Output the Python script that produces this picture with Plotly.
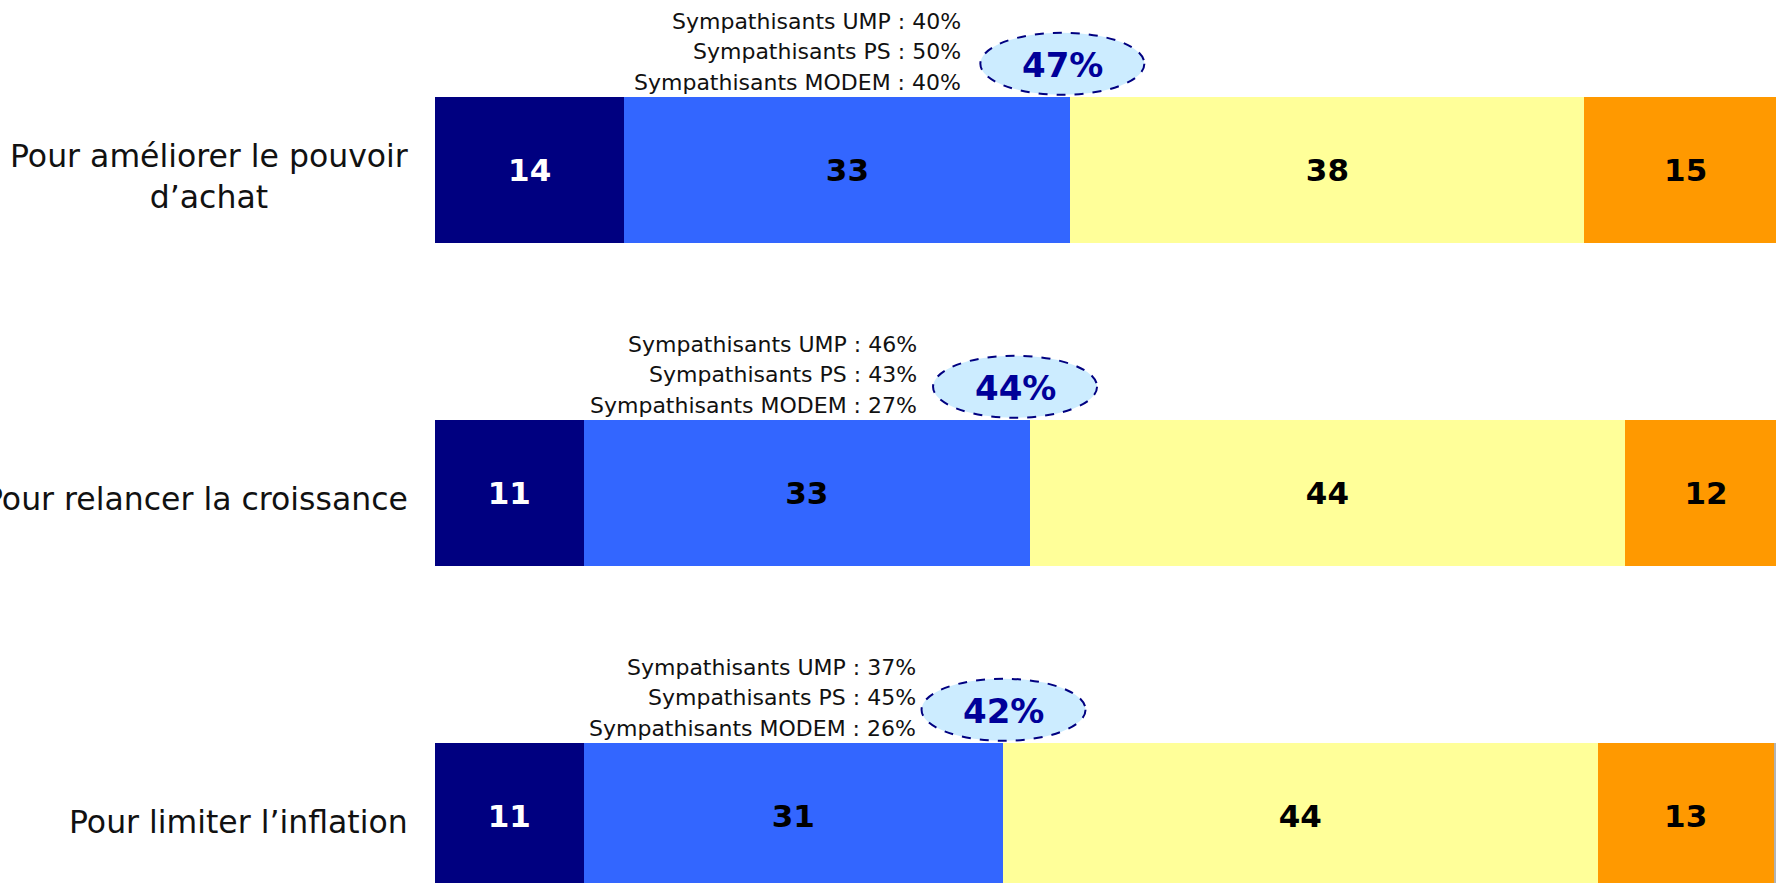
import plotly.graph_objects as go

# Données
questions = ["Pour améliorer le pouvoir<br>d’achat", "Pour relancer la croissance", "Pour limiter l’inflation"]
tres_efficace = [14, 11, 11]
assez_efficace = [33, 33, 31]
peu_efficace = [38, 44, 44]
pas_efficace = [15, 12, 13]
nsp = [0, 0, 1]
total_efficace = [47, 44, 42]
sympa_ump = [40, 46, 37]
sympa_ps = [50, 43, 45]
sympa_modem = [40, 27, 26]

# décalages de mise en page des bulles et des détails
bubble_dx = [-0.6, -1.1, 0.05]
detail_shift = [-99, -96, -86]

rows = list(range(len(questions)))
bar_w = 0.4536

segments = [
    (tres_efficace, "#000080", "white"),
    (assez_efficace, "#3366FF", "black"),
    (peu_efficace, "#FFFF99", "black"),
    (pas_efficace, "#FF9900", "black"),
]

fig = go.Figure()
for vals, col, txtcol in segments:
    fig.add_trace(go.Bar(
        x=vals, y=rows, orientation='h', width=bar_w,
        marker=dict(color=col, line=dict(width=0)),
        text=[str(v) for v in vals], textposition='inside',
        insidetextanchor='middle',
        textfont=dict(family="DejaVu Sans", size=31, color=txtcol, weight='bold'),
        hoverinfo='skip'))

fig.add_trace(go.Bar(
    x=nsp, y=rows, orientation='h', width=bar_w,
    marker=dict(color="#B2B2B2", line=dict(width=0)),
    textposition='none', hoverinfo='skip'))

annotations = []
shapes = []
for i in rows:
    top = i - bar_w / 2
    # libellé de la question
    annotations.append(dict(
        x=410 / 1776, xref='paper', y=i, yref='y', yshift=-6,
        xanchor='right', yanchor='middle',
        text=questions[i], showarrow=False, align='center',
        font=dict(family="DejaVu Sans", size=31.5, color="#111111")))
    # bulle avec le total
    cx = total_efficace[i] + bubble_dx[i]
    shapes.append(dict(
        type='circle', xref='x', yref='y', xsizemode='pixel', ysizemode='pixel',
        xanchor=cx, yanchor=top, x0=-82, x1=82, y0=2, y1=64,
        fillcolor="#CCECFF", line=dict(color="#000080", width=2, dash='dash')))
    annotations.append(dict(
        x=cx, y=top, xref='x', yref='y', yshift=32, showarrow=False,
        text=f"{total_efficace[i]}%", xanchor='center', yanchor='middle',
        font=dict(family="DejaVu Sans", size=34, color="#000099", weight='bold')))
    # détails par sympathisants
    lines = [f"Sympathisants UMP : {sympa_ump[i]}%",
             f"Sympathisants PS : {sympa_ps[i]}%",
             f"Sympathisants MODEM : {sympa_modem[i]}%"]
    for line, shift in zip(lines, [75, 45, 14]):
        annotations.append(dict(
            x=cx, y=top, xref='x', yref='y', xshift=detail_shift[i], yshift=shift,
            showarrow=False, text=line, xanchor='right', yanchor='middle',
            font=dict(family="DejaVu Sans", size=22, color="#111111")))

fig.update_layout(
    width=1776, height=883,
    margin=dict(l=0, r=0, t=0, b=0),
    barmode='stack', showlegend=False,
    plot_bgcolor='white', paper_bgcolor='white',
    xaxis=dict(domain=[435 / 1776, 1], range=[0, 99.18], visible=False, fixedrange=True),
    yaxis=dict(range=[2.2074, -0.5263], visible=False, fixedrange=True),
    annotations=annotations, shapes=shapes,
)

fig.write_html("out.html", config={'displayModeBar': False},
               post_script="document.body.style.margin='0';document.body.style.overflow='hidden';")
